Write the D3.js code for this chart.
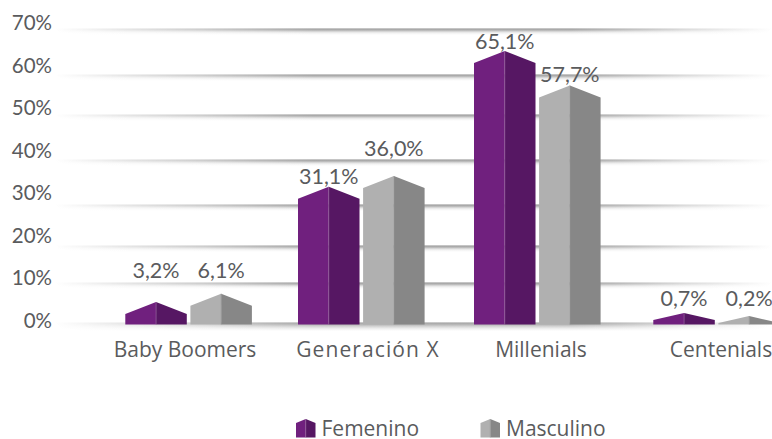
<!DOCTYPE html>
<meta charset="utf-8">
<style>
body { margin: 0; background: #fff; }
svg { display: block; }
text { font-family: Lato, "Open Sans", sans-serif; fill: #5a5b5d; }
text.wide { font-family: "Open Sans", sans-serif; }
</style>

<!-- Load d3.js. -->
<script src="https://d3js.org/d3.v7.min.js"></script>

<div id="chart"></div>

<script>
const categories = ["Baby Boomers", "Generación X", "Millenials", "Centenials"];
const femenino = [3.2, 31.1, 65.1, 0.7];
const masculino = [6.1, 36.0, 57.7, 0.2];
const yTicks = [0, 10, 20, 30, 40, 50, 60, 70];
const seriesNames = ["Femenino", "Masculino"];

const width = 772, height = 439, fontSize = 20.5, valueSize = 21.5, wideSize = 21;

const svg = d3.select("#chart")
	.append("svg")
	.attr("width", width)
	.attr("height", height);

// The picture is hand drawn, nothing in it is evenly spaced, so the scales are piecewise
const yAxisScale = d3.scaleLinear().domain([0, 70]).range([320.5, 23]);
const gridY = d3.scaleLinear().domain(yTicks).range([324, 284, 247, 206, 161, 116, 76, 30]);

const allValues = d3.sort(femenino.concat(masculino));
// top of the roof for each value, and where the value label sits
const apexY = d3.scaleLinear().domain(allValues).range([316, 313, 302, 293.7, 186.7, 176, 85.5, 51]);
const labelY = d3.scaleLinear().domain(allValues).range([306, 306, 278, 278, 184, 156, 82, 49]);
const roof = d3.scaleLinear().domain([1, 3]).range([7, 12]).clamp(true);

const groupX = d3.scaleOrdinal().domain(categories).range([125.3, 298, 474, 653.3]);
const catLabelX = d3.scaleOrdinal().domain(categories).range([185, 368, 541, 721]);
const catSpacing = d3.scaleOrdinal().domain(categories).range([0, 1.1, 0, 0]);
const barWidth = 61.5, barGap = 3.6;
const baseline = 324.5;

// Grid lines: fade in from the left and out to the right, soft shadow underneath
const defs = svg.append("defs");
const fade = defs.append("linearGradient").attr("id", "fade")
	.attr("gradientUnits", "userSpaceOnUse")
	.attr("x1", 55).attr("x2", 772).attr("y1", 0).attr("y2", 0);
fade.selectAll("stop")
	.data([[0, 0], [0.2, 0.5], [0.36, 1], [0.72, 1], [0.88, 0.35], [1, 0]])
	.join("stop")
	.attr("offset", d => d[0])
	.attr("stop-color", "#777777")
	.attr("stop-opacity", d => d[1]);

const grid = svg.append("g");
yTicks.forEach(t => {
	const layers = t === 0 ? [0.8, 0.7, 0.55, 0.4, 0.28, 0.18, 0.1, 0.05] : [0.85, 0.7, 0.42, 0.22, 0.1, 0.04];
	grid.selectAll(null)
		.data(layers)
		.join("rect")
		.attr("x", 55)
		.attr("y", (d, i) => gridY(t) - 1.5 + i)
		.attr("width", width - 55)
		.attr("height", 1)
		.attr("fill", "url(#fade)")
		.attr("opacity", d => d);
});

// Y axis
svg.append("g")
	.attr("transform", "translate(52,0)")
	.call(d3.axisLeft(yAxisScale).tickValues(yTicks).tickSize(0).tickPadding(0).tickFormat(d => d + "%"))
	.call(g => g.select(".domain").remove())
	.selectAll("text")
	.style("font-size", fontSize + "px");

// Category labels
svg.append("g")
	.selectAll("text")
	.data(categories)
	.join("text")
	.attr("class", "wide")
	.attr("x", d => catLabelX(d))
	.attr("y", 357)
	.attr("text-anchor", "middle")
	.style("font-size", wideSize + "px")
	.style("letter-spacing", d => catSpacing(d) + "px")
	.text(d => d);

const palette = [
	{left: "#70207e", right: "#561763", split: "#9a6aa3"},
	{left: "#b0b0b0", right: "#878787", split: "#9c9c9c"}
];

// one flat two tone column with a pitched roof
function column(g, x0, w, base, apex, shoulder, c) {
	const mid = x0 + w / 2, x1 = x0 + w;
	g.append("path")
		.attr("d", d3.line()([[x0, base], [x0, shoulder], [mid, apex], [mid, base]]) + "Z")
		.attr("fill", c.left);
	g.append("path")
		.attr("d", d3.line()([[mid, base], [mid, apex], [x1, shoulder], [x1, base]]) + "Z")
		.attr("fill", c.right);
	g.append("line")
		.attr("x1", mid).attr("x2", mid)
		.attr("y1", apex).attr("y2", base)
		.attr("stroke", c.split)
		.attr("stroke-width", 0.6);
}

const bars = svg.append("g");
[femenino, masculino].forEach((series, s) => {
	series.forEach((v, i) => {
		const x0 = groupX(categories[i]) + s * (barWidth + barGap);
		column(bars, x0, barWidth, baseline, apexY(v), apexY(v) + roof(v), palette[s]);
		bars.append("text")
			.attr("x", x0 + barWidth / 2)
			.attr("y", labelY(v))
			.attr("text-anchor", "middle")
			.style("font-size", valueSize + "px")
			.text(v.toFixed(1).replace(".", ",") + "%");
	});
});

// Legend
const legendX = d3.scaleOrdinal().domain(seriesNames).range([296, 480.5]);
const legend = svg.append("g");
seriesNames.forEach((name, s) => {
	const x0 = legendX(name);
	column(legend, x0, 19.5, 437.5, 419, 423, palette[s]);
	legend.append("text")
		.attr("class", "wide")
		.attr("x", x0 + 25.5)
		.attr("y", 436)
		.style("font-size", wideSize + "px")
		.text(name);
});
</script>
